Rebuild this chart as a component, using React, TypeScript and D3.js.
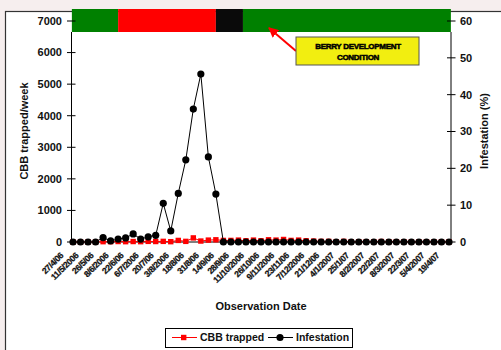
import React from "react";
import * as d3 from "d3";

const tickLabels = ["27/4/06","11/5/2006","26/5/06","8/6/2006","22/6/06","6/7/2006","20/7/06","3/8/2006","18/8/06","31/8/06","14/9/06","28/9/06","11/10/2006","26/10/06","9/11/2006","23/11/06","7/12/2006","21/12/06","4/1/2007","25/1/07","8/2/2007","22/2/07","8/3/2007","22/3/07","5/4/2007","19/4/07"];

const cbbTrapped = [0,0,0,0,10,10,15,10,15,10,20,15,20,10,50,20,130,30,60,70,50,50,60,40,60,40,70,60,80,50,60,40,30,20,20,10,20,10,10,10,10,15,10,10,10,5,5,5,5,5,5];

const infestation = [0,0,0,0,1.2,0.3,0.8,1.1,2.2,0.8,1.4,1.8,10.5,3.0,13.2,22.3,36.1,45.6,23.1,13.0,0,0,0,0,0,0,0,0,0,0,0,0,0,0,0,0,0,0,0,0,0,0,0,0,0,0,0,0,0,0,0];

const leftTicks = [0,1000,2000,3000,4000,5000,6000,7000];
const rightTicks = [0,10,20,30,40,50,60];

const phaseBounds = [-0.15, 6, 19, 22.6, 50.25];
const phaseColors = ["#008000", "#ff0000", "#0a0a0a", "#008000"];

const FONT = "'Liberation Sans', Arial, sans-serif";

export default function App() {
  const n = infestation.length;
  const x = d3.scaleLinear().domain([0, n - 1]).range([73, 449]);
  const yL = d3.scaleLinear().domain([0, 7000]).range([242, 21]);
  const yR = d3.scaleLinear().domain([0, 60]).range([242, 21]);

  const idx = d3.range(n);
  const cbbLine = d3.line<number>().x((i) => x(i)).y((i) => yL(cbbTrapped[i]))(idx) || "";
  const infLine = d3.line<number>().x((i) => x(i)).y((i) => yR(infestation[i]))(idx) || "";

  const axL = 71.5;
  const axR = 451;

  return (
    <svg width={501} height={350} style={{ position: "absolute", left: 0, top: 0, fontFamily: FONT }}>
      <defs>
        <marker id="ah" viewBox="0 0 10 10" refX="9" refY="5" markerWidth="5" markerHeight="5" orient="auto-start-reverse">
          <path d="M0,0 L10,5 L0,10 z" fill="#ff0000" />
        </marker>
      </defs>
      <rect x={0} y={0} width={501} height={350} fill="#f6eeee" />
      <rect x={5.5} y={11.5} width={600} height={400} fill="#ffffff" stroke="#333" strokeWidth={1.2} />

      {phaseColors.map((c, k) => (
        <rect key={k} x={x(phaseBounds[k])} y={9} width={x(phaseBounds[k + 1]) - x(phaseBounds[k])} height={23} fill={c} />
      ))}

      <line x1={axL} x2={axL} y1={32} y2={242} stroke="#000" />
      <line x1={axR} x2={axR} y1={32} y2={242} stroke="#000" />
      <line x1={axL} x2={axR} y1={242} y2={242} stroke="#000" />

      {leftTicks.map((t) => (
        <g key={"l" + t}>
          <line x1={axL - 4.5} x2={axL + 4} y1={yL(t)} y2={yL(t)} stroke="#000" />
          <text x={62} y={yL(t)} dy="0.35em" textAnchor="end" fontSize={11} fontWeight="bold" fill="#111">{t}</text>
        </g>
      ))}
      {rightTicks.map((t) => (
        <g key={"r" + t}>
          <line x1={axR - 4} x2={axR + 4.5} y1={yR(t)} y2={yR(t)} stroke="#000" />
          <text x={460} y={yR(t)} dy="0.35em" textAnchor="start" fontSize={11} fontWeight="bold" fill="#111">{t}</text>
        </g>
      ))}

      <text transform="translate(28,131) rotate(-90)" textAnchor="middle" fontSize={11} fontWeight="bold" fill="#111">CBB trapped/week</text>
      <text transform="translate(488,131) rotate(-90)" textAnchor="middle" fontSize={11} fontWeight="bold" fill="#111">Infestation (%)</text>

      {tickLabels.map((lab, k) => (
        <text key={lab} transform={`translate(${x(k * 2) - 9},256) rotate(-45)`} textAnchor="end" fontSize={8.6} fontWeight="bold" fill="#111" stroke="#111" strokeWidth={0.25} letterSpacing={-0.35}>{lab}</text>
      ))}

      <text x={261} y={310} textAnchor="middle" fontSize={11} fontWeight="bold" fill="#111">Observation Date</text>

      <path d={cbbLine} fill="none" stroke="#ff0000" strokeWidth={1} />
      {idx.map((i) => (
        <rect key={"s" + i} x={x(i) - 2.7} y={yL(cbbTrapped[i]) - 2.7} width={5.4} height={5.4} fill="#ff0000" />
      ))}
      <path d={infLine} fill="none" stroke="#000" strokeWidth={1} />
      {idx.map((i) => (
        <circle key={"c" + i} cx={x(i)} cy={yR(infestation[i])} r={3.6} fill="#000" />
      ))}

      <line x1={296} y1={51} x2={269} y2={28} stroke="#ff0000" strokeWidth={2} markerEnd="url(#ah)" />
      <rect x={296} y={37} width={123} height={28} fill="#f2ee10" stroke="#555" strokeWidth={1} />
      <text x={358} y={48.5} textAnchor="middle" fontSize={8} fontWeight={900} fill="#000" stroke="#000" strokeWidth={0.5} letterSpacing={-0.3}>BERRY DEVELOPMENT</text>
      <text x={358} y={60} textAnchor="middle" fontSize={8} fontWeight={900} fill="#000" stroke="#000" strokeWidth={0.5} letterSpacing={-0.3}>CONDITION</text>

      <rect x={165.5} y={328.5} width={187} height={19} fill="#fff" stroke="#000" strokeWidth={1} />
      <line x1={172} x2={197} y1={337.5} y2={337.5} stroke="#ff0000" />
      <rect x={181} y={334.8} width={5.4} height={5.4} fill="#ff0000" />
      <text x={200} y={337.5} dy="0.35em" fontSize={10.5} fontWeight="bold" fill="#111">CBB trapped</text>
      <line x1={268} x2={293} y1={337.5} y2={337.5} stroke="#000" />
      <circle cx={280} cy={337.5} r={3.6} fill="#000" />
      <text x={296} y={337.5} dy="0.35em" fontSize={10.5} fontWeight="bold" fill="#111">Infestation</text>
    </svg>
  );
}
